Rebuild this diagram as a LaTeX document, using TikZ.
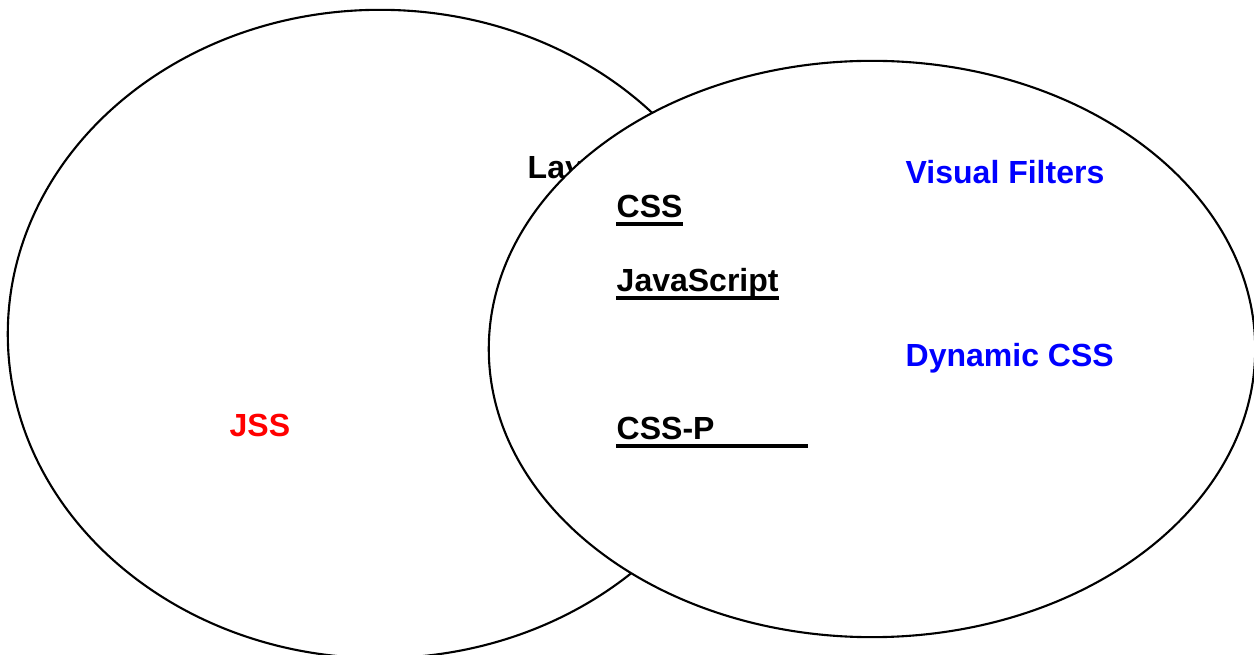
\documentclass[tikz,border=0pt]{standalone}
\usepackage{fontspec}
\setmainfont{Liberation Sans}
\usepackage{tikz}
\usetikzlibrary{shapes.geometric}

\begin{document}
\begin{tikzpicture}[
    x=0.01cm, y=-0.01cm,
    set/.style={ellipse, draw, line width=0.6pt, fill=white, inner sep=0pt},
    lbl/.style={anchor=base west, inner sep=0pt, font=\fontsize{9.1}{11}\selectfont\bfseries},
    uline/.style={line width=1.2pt}
]
    \useasboundingbox (0,0) rectangle (1254,655);
    \node[set, minimum width=7.44cm, minimum height=6.48cm] (L) at (380,334) {};
    \node[lbl] (LAY) at (527,179) {Lay};
    \node[lbl, red] (JSS) at (229,437) {JSS};
    \node[set, minimum width=7.66cm, minimum height=5.76cm] (R) at (872,349) {};

    \node[lbl] (CSS) at (616,218) {CSS};
    \node[lbl] (JS) at (616,292) {JavaScript};
    \node[lbl] (CSSP) at (616,440) {CSS-P};
    \node[lbl, blue] (VF) at (905,184) {Visual Filters};
    \node[lbl, blue] (DC) at (905,367) {Dynamic CSS};

    % underlines
    \draw[uline] ([yshift=-1.8pt]CSS.base west) -- ([yshift=-1.8pt]CSS.base east);
    \draw[uline] ([yshift=-1.8pt]JS.base west) -- ([yshift=-1.8pt]JS.base east);
    \draw[uline] ([yshift=-1.6pt]CSSP.base west) -- ++(192,0);
\end{tikzpicture}
\end{document}
